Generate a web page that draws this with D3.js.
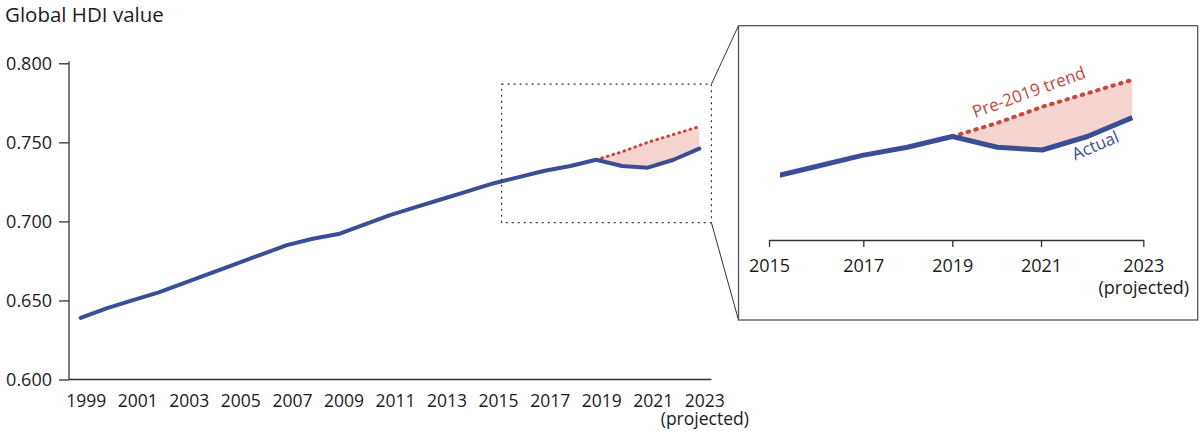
<!DOCTYPE html>
<html>
<head>
<meta charset="utf-8">
<script src="https://cdn.jsdelivr.net/npm/d3@7"></script>
<style>
  html, body { margin: 0; padding: 0; background: #fff; }
  svg { display: block; font-family: "Open Sans", Lato, sans-serif; }
</style>
</head>
<body>
<svg id="chart" width="1200" height="436"></svg>
<script>
// ---- Data ----
const years = [1999,2000,2001,2002,2003,2004,2005,2006,2007,2008,2009,2010,2011,2012,2013,2014,2015,2016,2017,2018,2019,2020,2021,2022,2023];
const hdi = [0.639,0.645,0.650,0.655,0.661,0.667,0.673,0.679,0.685,0.689,0.692,0.698,0.704,0.709,0.714,0.719,0.724,0.728,0.732,0.735,0.739,0.735,0.734,0.739,0.746];
const trendYears = [2019,2020,2021,2022,2023];
const trendValues = [0.739,0.744,0.750,0.755,0.760];
const yTicks = [0.600,0.650,0.700,0.750,0.800];
const xTickYears = [1999,2001,2003,2005,2007,2009,2011,2013,2015,2017,2019,2021,2023];
const insetTickYears = [2015,2017,2019,2021,2023];
const zoomYears = [2015.33, 2023.47];
const zoomValues = [0.6992, 0.7868];
const insetStartYear = 2015.17;

const FONT = "'Open Sans', Lato, sans-serif";
const blue = "#3a4e96", red = "#c8463a", pink = "#f6d5d0", ink = "#1c1c1c";

const svg = d3.select("#chart");

const actual = years.map((y,i)=>({year:y, v:hdi[i]}));
const gapData = trendYears.map((y,i)=>({year:y, t:trendValues[i], a:hdi[years.indexOf(y)]}));

// ---- Main chart ----
const x = d3.scaleLinear().domain([1999,2023]).range([80.7,699.3]);
const y = d3.scaleLinear().domain([0.6,0.8]).range([379.5,63.3]);
const axisX = 69;

svg.append("text").attr("x",5).attr("y",22).attr("font-size",20.5).attr("fill",ink).text("Global HDI value");

const gy = svg.append("g").attr("transform",`translate(${axisX},0)`)
  .call(d3.axisLeft(y).tickValues(yTicks).tickFormat(d3.format(".3f")).tickSize(10).tickSizeOuter(0).tickPadding(7));
gy.selectAll("path,line").attr("stroke","#333").attr("stroke-width",1.3);
gy.select(".domain").attr("d", `M0,${y(0.6)}V${y(0.8)-2}`);
gy.selectAll("text").attr("font-size",18).attr("fill",ink).attr("font-family",FONT);

// baseline
svg.append("line").attr("x1",axisX).attr("x2",x(zoomYears[1])).attr("y1",y(0.6)).attr("y2",y(0.6))
  .attr("stroke","#333").attr("stroke-width",1.3);

const gx = svg.append("g").attr("transform",`translate(0,${y(0.6)})`)
  .call(d3.axisBottom(x).tickValues(xTickYears).tickFormat(d3.format("d")).tickSize(0).tickPadding(0));
gx.select(".domain").remove();
gx.selectAll("text").attr("font-size",17.5).attr("fill",ink).attr("font-family",FONT)
  .attr("dy",null).attr("y",27.5).attr("dx",5);
gx.selectAll(".tick").filter(d=>d===2023).append("text")
  .attr("y",45.5).attr("dx",5).attr("font-size",17.5).attr("fill",ink).attr("text-anchor","middle")
  .attr("font-family",FONT).text("(projected)");

const areaMain = d3.area().x(d=>x(d.year)).y0(d=>y(d.a)).y1(d=>y(d.t));
svg.append("path").datum(gapData).attr("d",areaMain).attr("fill",pink);
svg.append("path").datum(gapData).attr("d",d3.line().x(d=>x(d.year)).y(d=>y(d.t)))
  .attr("fill","none").attr("stroke",red).attr("stroke-width",3).attr("stroke-linecap","round").attr("stroke-dasharray","0.8 5");
svg.append("path").datum(actual).attr("d",d3.line().x(d=>x(d.year)).y(d=>y(d.v)))
  .attr("fill","none").attr("stroke",blue).attr("stroke-width",4).attr("stroke-linejoin","round").attr("stroke-linecap","round");

// zoom rectangle
const rx0 = x(zoomYears[0]), rx1 = x(zoomYears[1]), ry0 = y(zoomValues[1]), ry1 = y(zoomValues[0]);
svg.append("rect").attr("x",rx0).attr("y",ry0).attr("width",rx1-rx0).attr("height",ry1-ry0)
  .attr("fill","none").attr("stroke","#333").attr("stroke-width",1.2).attr("stroke-dasharray","2 4");

// ---- Inset ----
const box = {x0:738.5, y0:25.7, x1:1197.7, y1:320};
svg.append("line").attr("x1",rx1).attr("y1",ry0).attr("x2",box.x0).attr("y2",box.y0).attr("stroke","#333").attr("stroke-width",1);
svg.append("line").attr("x1",rx1).attr("y1",ry1).attr("x2",box.x0).attr("y2",box.y1).attr("stroke","#333").attr("stroke-width",1);
svg.append("rect").attr("x",box.x0).attr("y",box.y0).attr("width",box.x1-box.x0).attr("height",box.y1-box.y0)
  .attr("fill","#fff").attr("stroke","#555").attr("stroke-width",1.3);

const xi = d3.scaleLinear().domain([2019,2021]).range([952.3,1042.3]);
const yi = d3.scaleLinear().domain([0.70,0.76]).range([241.8,79.8]);
const xiAxis = d3.scaleLinear().domain(insetTickYears).range([769,863.3,952.3,1041,1143.3]);

svg.append("clipPath").attr("id","insetClip").append("rect")
  .attr("x",xi(insetStartYear)).attr("y",box.y0).attr("width",box.x1-xi(insetStartYear)).attr("height",box.y1-box.y0);

const gi = svg.append("g").attr("clip-path","url(#insetClip)");
gi.append("path").datum(gapData).attr("d",d3.area().x(d=>xi(d.year)).y0(d=>yi(d.a)).y1(d=>yi(d.t))).attr("fill",pink);
gi.append("path").datum(gapData).attr("d",d3.line().x(d=>xi(d.year)).y(d=>yi(d.t)))
  .attr("fill","none").attr("stroke",red).attr("stroke-width",4).attr("stroke-linecap","round").attr("stroke-dasharray","1.5 6.5");
gi.append("path").datum(actual.filter(d=>d.year>=2015)).attr("d",d3.line().x(d=>xi(d.year)).y(d=>yi(d.v)))
  .attr("fill","none").attr("stroke",blue).attr("stroke-width",5).attr("stroke-linejoin","round");

const gix = svg.append("g").attr("transform","translate(0,240)")
  .call(d3.axisBottom(xiAxis).tickValues(insetTickYears).tickFormat(d3.format("d")).tickSize(7).tickSizeOuter(0).tickPadding(0));
gix.selectAll("path,line").attr("stroke","#333").attr("stroke-width",1.3);
gix.selectAll("text").attr("font-size",18).attr("fill",ink).attr("font-family",FONT).attr("dy",null).attr("y",31.7);
gix.selectAll(".tick").filter(d=>d===2023).append("text")
  .attr("y",54).attr("font-size",18).attr("fill",ink).attr("text-anchor","middle")
  .attr("font-family",FONT).text("(projected)");

svg.append("text").attr("transform","translate(975,118) rotate(-20)").attr("font-size",17).attr("fill",red).text("Pre-2019 trend");
svg.append("text").attr("transform","translate(1075,160.5) rotate(-23)").attr("font-size",17).attr("fill",blue).text("Actual");
</script>
</body>
</html>
